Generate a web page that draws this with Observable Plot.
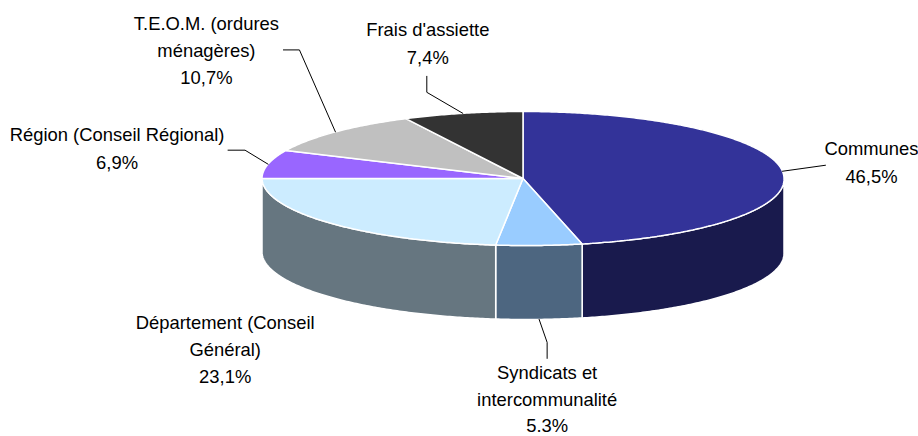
<!DOCTYPE html>
<html><head><meta charset="utf-8">
<style>html,body{margin:0;padding:0;background:#fff}svg{display:block}</style>
<script src="https://cdn.jsdelivr.net/npm/d3@7"></script>
<script src="https://cdn.jsdelivr.net/npm/@observablehq/plot@0.6"></script>
</head><body><div id="chart"></div>
<script>
// Data
const categories = ["Communes","Syndicats","Département","Région","TEOM","Frais"];
const values = [46.5,5.3,23.1,6.9,10.7,7.4];
const labelLines = [
  ["Communes","46,5%"],
  ["Syndicats et","intercommunalité","5.3%"],
  ["Département (Conseil","Général)","23,1%"],
  ["Région (Conseil Régional)","6,9%"],
  ["T.E.O.M. (ordures","ménagères)","10,7%"],
  ["Frais d'assiette","7,4%"]
];
const topColors = ["#333399","#99CCFF","#CCECFF","#9966FF","#C0C0C0","#333333"];
const sideColors = ["#191A4D","#4D6680","#667680",null,null,null];

// Layout: label and leader offsets from the rim point at each slice's middle angle
const labelOffsets = [[89,-22],[8,54],[-105,26],[-151,-29],[-129,-108],[-35,-83]];
const labelSteps = [27.5,26.5,27,27.5,27,27.5];
const leaderPaths = [
  [[0,0],[43,-6]],
  [[0,0],[8,23],[8,39]],
  null,
  [[0,0],[-23,-14],[-40,-14]],
  [[0,0],[-36,-82],[-52,-82]],
  [[0,0],[-36,-21],[-36,-37]]
];
const cx = 522.5, cy = 178, rx = 261, ry = 67, depth = 74, frontShear = 0.045;

const total = d3.sum(values);
const cum = d3.cumsum(values);
const angle = (share) => share / total * 2 * Math.PI;
const rim = (t, drop = 0) => {
  const dy = -ry * Math.cos(t);
  return {x: cx + rx * Math.sin(t) + frontShear * Math.max(0, dy), y: cy + dy + drop};
};
const arc = (a, b, drop = 0) => {
  const n = Math.max(2, Math.ceil((b - a) / 0.01));
  return d3.range(n + 1).map(i => rim(a + (b - a) * i / n, drop));
};

const slices = values.map((v, i) => ({
  i, a: angle(i ? cum[i - 1] : 0), b: angle(cum[i])
}));

const marks = [];
// Visible wall: the front half of the ellipse only
for (const s of slices) {
  if (!sideColors[s.i]) continue;
  const a = Math.max(s.a, Math.PI / 2), b = Math.min(s.b, 3 * Math.PI / 2);
  if (b <= a) continue;
  const top = arc(a, b), low = arc(a, b, depth).reverse();
  const pts = [...top, ...low, top[0]];
  marks.push(Plot.line(pts, {x:"x", y:"y", fill: sideColors[s.i], stroke:"#fff", strokeWidth:1.5, strokeLinejoin:"round"}));
}
// Top face
for (const s of slices) {
  const c = {x: cx, y: cy};
  const pts = [c, ...arc(s.a, s.b), c];
  marks.push(Plot.line(pts, {x:"x", y:"y", fill: topColors[s.i], stroke:"#fff", strokeWidth:1.5, strokeLinejoin:"miter"}));
}
// Labels and leaders
const textRows = [];
slices.forEach(s => {
  const mid = (s.a + s.b) / 2;
  const front = Math.cos(mid) < 0;
  const p = rim(mid, front ? depth : 0);
  const [dx, dy] = labelOffsets[s.i];
  labelLines[s.i].forEach((t, k) => textRows.push({x: p.x + dx, y: p.y + dy + k * labelSteps[s.i], t}));
  if (leaderPaths[s.i]) {
    marks.push(Plot.line(leaderPaths[s.i].map(([u, v]) => ({x: p.x + u, y: p.y + v})),
      {x:"x", y:"y", stroke:"#000", strokeWidth:1}));
  }
});
marks.push(Plot.text(textRows, {x:"x", y:"y", text:"t", textAnchor:"middle", lineAnchor:"middle",
  fill:"#000", fontSize:18.4, fontFamily:"Liberation Sans"}));

const chart = Plot.plot({
  width: 918, height: 436, margin: 0,
  x: {axis: null, domain: [0, 918], range: [0, 918]},
  y: {axis: null, domain: [0, 436], range: [0, 436]},
  marks
});
document.getElementById("chart").appendChild(chart);
</script></body></html>
